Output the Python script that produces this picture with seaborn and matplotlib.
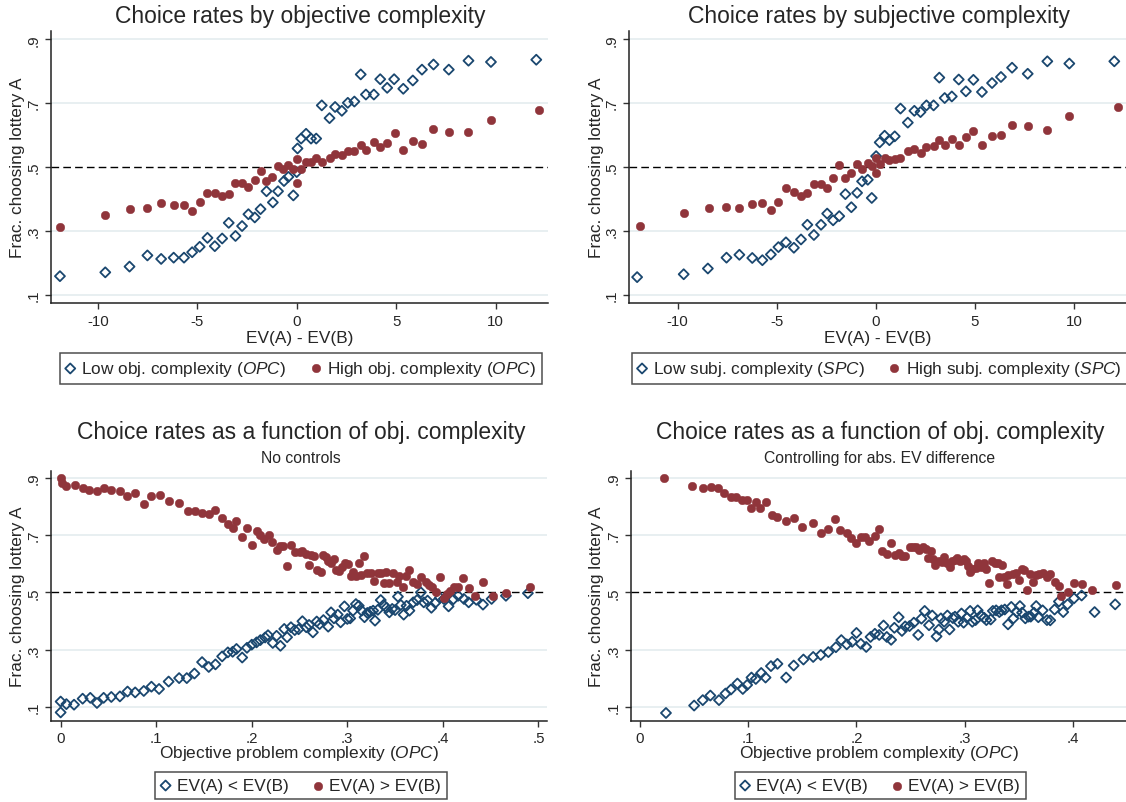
import numpy as np
import pandas as pd
import matplotlib
matplotlib.use('Agg')
import matplotlib.pyplot as plt
import seaborn as sns

# --- data ---
# top left: choice rates by objective complexity
obj_low_x = [-11.91, -9.63, -8.41, -7.51, -6.82, -6.19, -5.67, -5.26, -4.88, -4.49,
             -4.12, -3.75, -3.42, -3.08, -2.75, -2.43, -2.11, -1.82, -1.52, -1.20,
             -0.94, -0.64, -0.42, -0.17, 0.00, 0.04, 0.22, 0.47, 0.72, 0.98,
             1.26, 1.65, 1.93, 2.27, 2.57, 2.90, 3.22, 3.48, 3.88, 4.20,
             4.55, 4.90, 5.36, 5.84, 6.30, 6.88, 7.65, 8.64, 9.77, 12.05]
obj_low_y = [0.158, 0.170, 0.188, 0.223, 0.212, 0.216, 0.216, 0.233, 0.250, 0.278,
             0.252, 0.276, 0.325, 0.284, 0.315, 0.352, 0.342, 0.368, 0.424, 0.389,
             0.424, 0.456, 0.469, 0.411, 0.484, 0.558, 0.589, 0.604, 0.589, 0.589,
             0.693, 0.653, 0.688, 0.676, 0.701, 0.705, 0.790, 0.727, 0.727, 0.775,
             0.748, 0.775, 0.745, 0.771, 0.805, 0.821, 0.805, 0.833, 0.829, 0.836]
obj_high_x = [-11.91, -9.63, -8.40, -7.51, -6.82, -6.19, -5.67, -5.26, -4.88, -4.49,
              -4.09, -3.75, -3.42, -3.08, -2.75, -2.43, -2.11, -1.81, -1.52, -1.22,
              -0.92, -0.67, -0.42, -0.20, 0.00, 0.00, 0.22, 0.47, 0.72, 0.98,
              1.26, 1.65, 1.93, 2.27, 2.57, 2.90, 3.22, 3.48, 3.88, 4.20,
              4.55, 4.95, 5.37, 5.87, 6.31, 6.88, 7.65, 8.63, 9.77, 12.20]
obj_high_y = [0.312, 0.350, 0.368, 0.370, 0.386, 0.382, 0.381, 0.361, 0.391, 0.420,
              0.418, 0.408, 0.415, 0.451, 0.451, 0.436, 0.458, 0.486, 0.456, 0.470,
              0.503, 0.495, 0.505, 0.493, 0.525, 0.450, 0.493, 0.517, 0.517, 0.527,
              0.516, 0.529, 0.541, 0.538, 0.550, 0.549, 0.570, 0.552, 0.578, 0.564,
              0.575, 0.605, 0.554, 0.581, 0.572, 0.618, 0.609, 0.609, 0.647, 0.677]

# top right: choice rates by subjective complexity
subj_low_x = [-12.04, -9.69, -8.47, -7.53, -6.88, -6.23, -5.72, -5.29, -4.91, -4.53,
              -4.13, -3.77, -3.45, -3.12, -2.76, -2.45, -2.15, -1.84, -1.53, -1.23,
              -0.94, -0.69, -0.40, -0.20, 0.02, 0.20, 0.45, 0.69, 0.96, 1.25,
              1.62, 1.95, 2.26, 2.56, 2.92, 3.21, 3.48, 3.84, 4.19, 4.55,
              4.93, 5.36, 5.87, 6.32, 6.88, 7.67, 8.66, 9.77, 12.04]
subj_low_y = [0.155, 0.164, 0.182, 0.216, 0.225, 0.215, 0.208, 0.226, 0.249, 0.264,
              0.247, 0.273, 0.319, 0.287, 0.319, 0.354, 0.333, 0.346, 0.415, 0.374,
              0.419, 0.455, 0.460, 0.403, 0.534, 0.577, 0.598, 0.584, 0.596, 0.683,
              0.639, 0.676, 0.672, 0.693, 0.693, 0.780, 0.716, 0.721, 0.774, 0.737,
              0.773, 0.735, 0.763, 0.782, 0.811, 0.792, 0.831, 0.824, 0.831]
subj_high_x = [-11.88, -9.66, -8.43, -7.53, -6.88, -6.23, -5.72, -5.29, -4.91, -4.53,
               -4.13, -3.77, -3.45, -3.12, -2.76, -2.45, -2.15, -1.84, -1.53, -1.23,
               -0.94, -0.69, -0.40, -0.20, 0.00, 0.00, 0.20, 0.45, 0.69, 0.96,
               1.25, 1.62, 1.95, 2.26, 2.56, 2.92, 3.21, 3.48, 3.84, 4.19,
               4.55, 4.93, 5.36, 5.87, 6.32, 6.88, 7.67, 8.66, 9.77, 12.22]
subj_high_y = [0.314, 0.356, 0.373, 0.375, 0.373, 0.383, 0.388, 0.366, 0.389, 0.434,
               0.422, 0.410, 0.420, 0.448, 0.446, 0.435, 0.467, 0.505, 0.466, 0.482,
               0.508, 0.494, 0.511, 0.503, 0.528, 0.481, 0.508, 0.528, 0.523, 0.525,
               0.529, 0.550, 0.555, 0.544, 0.563, 0.566, 0.586, 0.568, 0.587, 0.570,
               0.593, 0.614, 0.568, 0.596, 0.599, 0.633, 0.627, 0.617, 0.659, 0.688]

# bottom left: OPC, no controls
nc_low_x = [0.000, 0.000, 0.006, 0.014, 0.023, 0.031, 0.038, 0.045, 0.053, 0.062,
            0.070, 0.078, 0.087, 0.095, 0.103, 0.113, 0.124, 0.132, 0.140, 0.148,
            0.155, 0.162, 0.169, 0.175, 0.180, 0.184, 0.190, 0.195, 0.200, 0.205,
            0.209, 0.214, 0.217, 0.222, 0.226, 0.230,
            0.234, 0.237, 0.241, 0.245, 0.249, 0.253, 0.257, 0.260, 0.264, 0.268,
            0.271, 0.275, 0.280, 0.283, 0.286, 0.290, 0.293, 0.297, 0.300, 0.303,
            0.306, 0.309, 0.312, 0.315, 0.318, 0.321, 0.324, 0.327, 0.329, 0.332,
            0.335, 0.338, 0.341, 0.344, 0.347, 0.350, 0.353, 0.356, 0.359, 0.362,
            0.365, 0.369, 0.373, 0.377, 0.380, 0.384, 0.388, 0.392, 0.397, 0.401,
            0.406, 0.411, 0.416, 0.422, 0.427, 0.435, 0.442, 0.451, 0.466, 0.489]
nc_low_y = [0.080, 0.118, 0.109, 0.107, 0.128, 0.131, 0.113, 0.131, 0.134, 0.136,
            0.153, 0.150, 0.155, 0.170, 0.162, 0.188, 0.200, 0.200, 0.216, 0.256,
            0.239, 0.248, 0.276, 0.290, 0.292, 0.302, 0.272, 0.306, 0.317, 0.325,
            0.333, 0.342, 0.350, 0.323, 0.348, 0.313,
            0.372, 0.343, 0.378, 0.368, 0.371, 0.399, 0.378, 0.386, 0.360, 0.398,
            0.389, 0.403, 0.380, 0.430, 0.409, 0.422, 0.395, 0.451, 0.407, 0.409,
            0.436, 0.459, 0.453, 0.436, 0.413, 0.428, 0.432, 0.436, 0.401, 0.439,
            0.473, 0.456, 0.446, 0.430, 0.442, 0.438, 0.485, 0.456, 0.422, 0.453,
            0.436, 0.465, 0.473, 0.500, 0.465, 0.471, 0.446, 0.463, 0.481, 0.477,
            0.451, 0.476, 0.488, 0.477, 0.465, 0.474, 0.457, 0.477, 0.488, 0.497]
nc_high_x = [0.000, 0.001, 0.006, 0.015, 0.023, 0.030, 0.038, 0.045, 0.053, 0.062,
             0.069, 0.078, 0.087, 0.095, 0.104, 0.113, 0.124, 0.133, 0.141, 0.148,
             0.155, 0.162, 0.169, 0.175, 0.180, 0.184, 0.190, 0.195, 0.200, 0.205,
             0.209, 0.213, 0.218, 0.221, 0.226, 0.230, 0.233, 0.237, 0.241,
             0.245, 0.250, 0.253, 0.257, 0.260, 0.262, 0.265, 0.268, 0.272, 0.275,
             0.278, 0.280, 0.283, 0.286, 0.288, 0.291, 0.294, 0.298, 0.301, 0.304,
             0.306, 0.309, 0.312, 0.314, 0.318, 0.321, 0.325, 0.328, 0.332, 0.335,
             0.338, 0.340, 0.344, 0.348, 0.352, 0.354, 0.358, 0.361, 0.365, 0.369,
             0.373, 0.377, 0.382, 0.386, 0.389, 0.393, 0.397, 0.401, 0.404, 0.408,
             0.412, 0.416, 0.421, 0.427, 0.434, 0.442, 0.453, 0.466, 0.491]
nc_high_y = [0.899, 0.883, 0.873, 0.877, 0.865, 0.858, 0.856, 0.864, 0.858, 0.856,
             0.837, 0.847, 0.808, 0.837, 0.840, 0.821, 0.812, 0.784, 0.786, 0.778,
             0.773, 0.788, 0.760, 0.738, 0.726, 0.749, 0.695, 0.726, 0.666, 0.714,
             0.702, 0.687, 0.702, 0.676, 0.648, 0.662, 0.662, 0.593, 0.665,
             0.642, 0.642, 0.644, 0.635, 0.595, 0.632, 0.627, 0.577, 0.572, 0.630,
             0.625, 0.611, 0.601, 0.615, 0.578, 0.573, 0.590, 0.602, 0.599, 0.558,
             0.570, 0.558, 0.601, 0.562, 0.626, 0.566, 0.566, 0.541, 0.566, 0.566,
             0.533, 0.570, 0.533, 0.566, 0.535, 0.558, 0.517, 0.558, 0.578, 0.535,
             0.528, 0.552, 0.535, 0.527, 0.517, 0.500, 0.552, 0.481, 0.494, 0.506,
             0.517, 0.517, 0.550, 0.516, 0.488, 0.535, 0.488, 0.498, 0.520]

# bottom right: OPC, controlling for abs. EV difference
ctl_low_x = [0.024, 0.050, 0.058, 0.065, 0.073, 0.079, 0.084, 0.090, 0.095, 0.099,
             0.103, 0.107, 0.112, 0.116, 0.121, 0.127, 0.135, 0.142, 0.151, 0.160,
             0.167, 0.174, 0.181, 0.186, 0.191, 0.196, 0.200, 0.204, 0.209, 0.213,
             0.217, 0.221, 0.225, 0.228, 0.232, 0.235, 0.239, 0.242, 0.245, 0.249,
             0.253, 0.257, 0.260, 0.263, 0.267, 0.270, 0.274, 0.276, 0.278, 0.281,
             0.284, 0.286, 0.289, 0.291, 0.294, 0.297, 0.299, 0.302, 0.305, 0.307,
             0.310, 0.312, 0.315, 0.318, 0.320, 0.324, 0.326, 0.329, 0.332, 0.334,
             0.337, 0.340, 0.343, 0.345, 0.348, 0.351, 0.353, 0.356, 0.359, 0.361,
             0.364, 0.366, 0.368, 0.372, 0.376, 0.379, 0.383, 0.387, 0.391, 0.395,
             0.401, 0.408, 0.420, 0.439]
ctl_low_y = [0.078, 0.104, 0.123, 0.139, 0.123, 0.146, 0.160, 0.181, 0.162, 0.176,
             0.202, 0.197, 0.218, 0.202, 0.242, 0.250, 0.202, 0.244, 0.265, 0.274,
             0.281, 0.291, 0.308, 0.333, 0.318, 0.327, 0.358, 0.320, 0.309, 0.344,
             0.355, 0.351, 0.384, 0.344, 0.334, 0.376, 0.413, 0.365, 0.381, 0.382,
             0.394, 0.351, 0.408, 0.435, 0.385, 0.419, 0.346, 0.370, 0.409, 0.397,
             0.419, 0.370, 0.410, 0.415, 0.397, 0.426, 0.394, 0.411, 0.435, 0.397,
             0.403, 0.437, 0.419, 0.411, 0.403, 0.405, 0.435, 0.437, 0.431, 0.437,
             0.440, 0.388, 0.449, 0.409, 0.431, 0.452, 0.429, 0.409, 0.415, 0.415,
             0.429, 0.452, 0.413, 0.437, 0.403, 0.402, 0.440, 0.468, 0.431, 0.458,
             0.479, 0.489, 0.431, 0.458]
ctl_high_x = [0.022, 0.048, 0.058, 0.066, 0.072, 0.078, 0.084, 0.089, 0.094, 0.099,
              0.103, 0.107, 0.111, 0.116, 0.122, 0.127, 0.135, 0.142, 0.150, 0.160,
              0.167, 0.174, 0.180, 0.185, 0.191, 0.195, 0.200, 0.204, 0.208, 0.212,
              0.217, 0.221, 0.224, 0.228, 0.232, 0.236, 0.239, 0.242, 0.245, 0.249,
              0.252, 0.255, 0.258, 0.261, 0.264, 0.266, 0.269, 0.271, 0.273, 0.276,
              0.279, 0.281, 0.284, 0.286, 0.288, 0.291, 0.293, 0.296, 0.299, 0.301,
              0.303, 0.305, 0.307, 0.310, 0.312, 0.315, 0.318, 0.320, 0.322, 0.325,
              0.328, 0.331, 0.334, 0.332, 0.336, 0.339, 0.340, 0.345, 0.347, 0.350,
              0.353, 0.355, 0.358, 0.360, 0.363, 0.366, 0.369, 0.372, 0.376, 0.379,
              0.383, 0.387, 0.389, 0.395, 0.401, 0.408, 0.418, 0.440]
ctl_high_y = [0.900, 0.872, 0.865, 0.868, 0.865, 0.847, 0.835, 0.832, 0.824, 0.824,
              0.795, 0.815, 0.795, 0.815, 0.771, 0.762, 0.751, 0.761, 0.729, 0.742,
              0.709, 0.723, 0.756, 0.719, 0.706, 0.689, 0.673, 0.695, 0.694, 0.679,
              0.698, 0.723, 0.643, 0.633, 0.672, 0.631, 0.637, 0.626, 0.626, 0.659,
              0.660, 0.660, 0.649, 0.660, 0.651, 0.620, 0.644, 0.618, 0.596, 0.610,
              0.606, 0.622, 0.602, 0.590, 0.610, 0.613, 0.620, 0.609, 0.616, 0.609,
              0.592, 0.571, 0.581, 0.584, 0.602, 0.589, 0.602, 0.581, 0.533, 0.610,
              0.604, 0.601, 0.596, 0.554, 0.555, 0.530, 0.560, 0.564, 0.569, 0.544,
              0.581, 0.577, 0.507, 0.565, 0.536, 0.561, 0.563, 0.569, 0.554, 0.563,
              0.537, 0.522, 0.487, 0.500, 0.534, 0.528, 0.509, 0.525]

y_ticks = [0.1, 0.3, 0.5, 0.7, 0.9]
y_ticklabels = ['.1', '.3', '.5', '.7', '.9']
ev_ticks = [-10, -5, 0, 5, 10]
ev_ticklabels = ['-10', '-5', '0', '5', '10']
opc_ticks = [0, 0.1, 0.2, 0.3, 0.4, 0.5]
opc_ticklabels = ['0', '.1', '.2', '.3', '.4', '.5']

NAVY = '#1a476f'
MAROON = '#90353b'
GRID = '#e6eef0'

sns.set_style('ticks')
plt.rcParams['font.family'] = ['Liberation Sans', 'DejaVu Sans']
plt.rcParams['mathtext.fontset'] = 'custom'
plt.rcParams['mathtext.rm'] = 'Liberation Sans'
plt.rcParams['mathtext.it'] = 'Liberation Sans:italic'

W, H = 1126, 803
fig = plt.figure(figsize=(W / 100, H / 100), dpi=100)
fig.patch.set_facecolor('white')


def px_rect(l, t, r, b):
    return [l / W, 1 - b / H, (r - l) / W, (b - t) / H]


def draw_panel(ax, lx, ly, hx, hy, lo_lab, hi_lab, xlim, ylim, xticks, xticklabels,
               xlabel, title, title_xy, legend_xy, subtitle=None):
    for v in y_ticks:
        if v != 0.5:
            ax.axhline(v, color=GRID, lw=1.3, zorder=0)
    ax.axhline(0.5, color='black', lw=1.0, ls=(0, (5.5, 3)), zorder=1)

    sns.scatterplot(x=lx, y=ly, ax=ax, marker='D', s=26, color=NAVY,
                    facecolor='none', edgecolor=NAVY, linewidth=1.3,
                    label=lo_lab, zorder=3)
    sns.scatterplot(x=hx, y=hy, ax=ax, marker='o', s=38, color=MAROON,
                    edgecolor=MAROON, linewidth=0.3, label=hi_lab, zorder=3)

    ax.set_xlim(*xlim)
    ax.set_ylim(*ylim)
    ax.set_xticks(xticks)
    ax.set_xticklabels(xticklabels, fontsize=10.8)
    ax.set_yticks(y_ticks)
    ax.set_yticklabels(y_ticklabels, fontsize=10.8, rotation=90, va='center')
    ax.tick_params(axis='both', direction='out', length=4, width=1, color='#333333', pad=3.5)
    sns.despine(ax=ax)
    for sp in ['left', 'bottom']:
        ax.spines[sp].set_color('#222222')
        ax.spines[sp].set_linewidth(1.1)
    ax.set_facecolor('white')

    ax.set_xlabel(xlabel, fontsize=12.4)
    ax.set_ylabel('Frac. choosing lottery A', fontsize=12.4)

    fig.text(title_xy[0] / W, 1 - title_xy[1] / H, title, fontsize=16.5,
             ha='center', va='center')
    if subtitle is not None:
        fig.text(title_xy[0] / W, 1 - (title_xy[1] + 26) / H, subtitle,
                 fontsize=11.3, ha='center', va='center')

    leg = ax.legend(loc='center', bbox_to_anchor=(legend_xy[0] / W, 1 - legend_xy[1] / H),
                    bbox_transform=fig.transFigure, ncol=2, fontsize=12.4,
                    frameon=True, fancybox=False, edgecolor='#222222',
                    borderpad=0.35, handlelength=0.5, handletextpad=0.4,
                    columnspacing=1.45, borderaxespad=0)
    leg.get_frame().set_linewidth(1.1)
    return ax


# top row: EV difference on the x axis
ax1 = fig.add_axes(px_rect(51, 32, 548, 304.3))
draw_panel(ax1, obj_low_x, obj_low_y, obj_high_x, obj_high_y,
           r'Low obj. complexity ($\mathit{OPC}$)', r'High obj. complexity ($\mathit{OPC}$)',
           (-12.36, 12.64), (0.073, 0.926), ev_ticks, ev_ticklabels,
           'EV(A) - EV(B)', 'Choice rates by objective complexity', (300, 17), (301, 369.5))

ax2 = fig.add_axes(px_rect(629, 32, 1126, 304.3))
draw_panel(ax2, subj_low_x, subj_low_y, subj_high_x, subj_high_y,
           r'Low subj. complexity ($\mathit{SPC}$)', r'High subj. complexity ($\mathit{SPC}$)',
           (-12.45, 12.63), (0.073, 0.926), ev_ticks, ev_ticklabels,
           'EV(A) - EV(B)', 'Choice rates by subjective complexity', (879, 17), (879.5, 369.5))

# bottom row: objective problem complexity on the x axis
ax3 = fig.add_axes(px_rect(51, 472, 547, 721.7))
draw_panel(ax3, nc_low_x, nc_low_y, nc_high_x, nc_high_y,
           'EV(A) < EV(B)', 'EV(A) > EV(B)',
           (-0.0101, 0.509), (0.051, 0.9245), opc_ticks, opc_ticklabels,
           r'Objective problem complexity ($\mathit{OPC}$)',
           'Choice rates as a function of obj. complexity', (301, 433), (301, 786.5),
           subtitle='No controls')

ax4 = fig.add_axes(px_rect(631, 472, 1126, 721.7))
draw_panel(ax4, ctl_low_x, ctl_low_y, ctl_high_x, ctl_high_y,
           'EV(A) < EV(B)', 'EV(A) > EV(B)',
           (-0.0083, 0.449), (0.051, 0.9245), opc_ticks[:5], opc_ticklabels[:5],
           r'Objective problem complexity ($\mathit{OPC}$)',
           'Choice rates as a function of obj. complexity', (880, 433), (880.5, 786.5),
           subtitle='Controlling for abs. EV difference')

# label positions (axes coords) to match the Stata layout
for ax, left, bottom, width, height in [(ax1, 51, 304.3, 497, 272.3), (ax2, 629, 304.3, 497, 272.3),
                                        (ax3, 51, 721.7, 496, 249.7), (ax4, 631, 721.7, 495, 249.7)]:
    ylab_x = 18 if left < 500 else 596.5
    ax.yaxis.set_label_coords((ylab_x - left) / width, 0.5)
    ax.yaxis.label.set_va('center')
    xlab_y = 338 if bottom < 500 else 754
    ax.xaxis.set_label_coords(0.5, -(xlab_y - bottom) / height)
    ax.xaxis.label.set_va('center')

fig.savefig('out.png', dpi=100, facecolor='white')
